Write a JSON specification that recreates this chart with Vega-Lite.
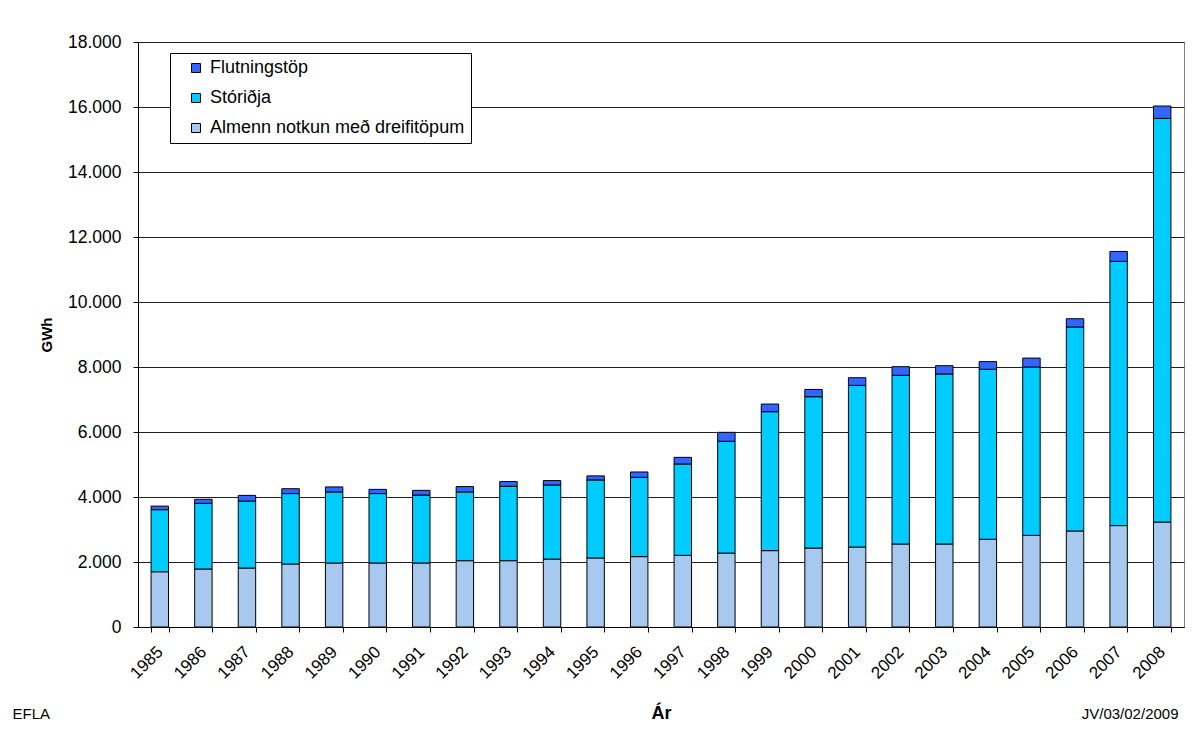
{
  "$schema": "https://vega.github.io/schema/vega-lite/v6.json",
  "width": 1046,
  "height": 585,
  "autosize": {"type": "none"},
  "padding": {"left": 138, "top": 42, "right": 16, "bottom": 115},
  "background": "white",
  "config": {
    "font": "Liberation Sans",
    "view": {"stroke": "#808080", "strokeWidth": 1}
  },
  "data": {
    "values": [
      {"year": "1985", "flokkur": "Almenn notkun með dreifitöpum", "gwh": 1700},
      {"year": "1985", "flokkur": "Stóriðja", "gwh": 1910},
      {"year": "1985", "flokkur": "Flutningstöp", "gwh": 110},
      {"year": "1986", "flokkur": "Almenn notkun með dreifitöpum", "gwh": 1785},
      {"year": "1986", "flokkur": "Stóriðja", "gwh": 2020},
      {"year": "1986", "flokkur": "Flutningstöp", "gwh": 125},
      {"year": "1987", "flokkur": "Almenn notkun með dreifitöpum", "gwh": 1815},
      {"year": "1987", "flokkur": "Stóriðja", "gwh": 2060},
      {"year": "1987", "flokkur": "Flutningstöp", "gwh": 175},
      {"year": "1988", "flokkur": "Almenn notkun með dreifitöpum", "gwh": 1940},
      {"year": "1988", "flokkur": "Stóriðja", "gwh": 2165},
      {"year": "1988", "flokkur": "Flutningstöp", "gwh": 150},
      {"year": "1989", "flokkur": "Almenn notkun með dreifitöpum", "gwh": 1970},
      {"year": "1989", "flokkur": "Stóriðja", "gwh": 2185},
      {"year": "1989", "flokkur": "Flutningstöp", "gwh": 155},
      {"year": "1990", "flokkur": "Almenn notkun með dreifitöpum", "gwh": 1970},
      {"year": "1990", "flokkur": "Stóriðja", "gwh": 2135},
      {"year": "1990", "flokkur": "Flutningstöp", "gwh": 130},
      {"year": "1991", "flokkur": "Almenn notkun með dreifitöpum", "gwh": 1970},
      {"year": "1991", "flokkur": "Stóriðja", "gwh": 2090},
      {"year": "1991", "flokkur": "Flutningstöp", "gwh": 145},
      {"year": "1992", "flokkur": "Almenn notkun með dreifitöpum", "gwh": 2040},
      {"year": "1992", "flokkur": "Stóriðja", "gwh": 2115},
      {"year": "1992", "flokkur": "Flutningstöp", "gwh": 165},
      {"year": "1993", "flokkur": "Almenn notkun með dreifitöpum", "gwh": 2040},
      {"year": "1993", "flokkur": "Stóriðja", "gwh": 2290},
      {"year": "1993", "flokkur": "Flutningstöp", "gwh": 145},
      {"year": "1994", "flokkur": "Almenn notkun með dreifitöpum", "gwh": 2090},
      {"year": "1994", "flokkur": "Stóriðja", "gwh": 2280},
      {"year": "1994", "flokkur": "Flutningstöp", "gwh": 135},
      {"year": "1995", "flokkur": "Almenn notkun með dreifitöpum", "gwh": 2125},
      {"year": "1995", "flokkur": "Stóriðja", "gwh": 2400},
      {"year": "1995", "flokkur": "Flutningstöp", "gwh": 125},
      {"year": "1996", "flokkur": "Almenn notkun með dreifitöpum", "gwh": 2165},
      {"year": "1996", "flokkur": "Stóriðja", "gwh": 2440},
      {"year": "1996", "flokkur": "Flutningstöp", "gwh": 165},
      {"year": "1997", "flokkur": "Almenn notkun með dreifitöpum", "gwh": 2205},
      {"year": "1997", "flokkur": "Stóriðja", "gwh": 2810},
      {"year": "1997", "flokkur": "Flutningstöp", "gwh": 205},
      {"year": "1998", "flokkur": "Almenn notkun með dreifitöpum", "gwh": 2275},
      {"year": "1998", "flokkur": "Stóriðja", "gwh": 3440},
      {"year": "1998", "flokkur": "Flutningstöp", "gwh": 275},
      {"year": "1999", "flokkur": "Almenn notkun með dreifitöpum", "gwh": 2350},
      {"year": "1999", "flokkur": "Stóriðja", "gwh": 4275},
      {"year": "1999", "flokkur": "Flutningstöp", "gwh": 235},
      {"year": "2000", "flokkur": "Almenn notkun með dreifitöpum", "gwh": 2430},
      {"year": "2000", "flokkur": "Stóriðja", "gwh": 4655},
      {"year": "2000", "flokkur": "Flutningstöp", "gwh": 225},
      {"year": "2001", "flokkur": "Almenn notkun með dreifitöpum", "gwh": 2460},
      {"year": "2001", "flokkur": "Stóriðja", "gwh": 4975},
      {"year": "2001", "flokkur": "Flutningstöp", "gwh": 235},
      {"year": "2002", "flokkur": "Almenn notkun með dreifitöpum", "gwh": 2555},
      {"year": "2002", "flokkur": "Stóriðja", "gwh": 5190},
      {"year": "2002", "flokkur": "Flutningstöp", "gwh": 265},
      {"year": "2003", "flokkur": "Almenn notkun með dreifitöpum", "gwh": 2555},
      {"year": "2003", "flokkur": "Stóriðja", "gwh": 5230},
      {"year": "2003", "flokkur": "Flutningstöp", "gwh": 255},
      {"year": "2004", "flokkur": "Almenn notkun með dreifitöpum", "gwh": 2700},
      {"year": "2004", "flokkur": "Stóriðja", "gwh": 5230},
      {"year": "2004", "flokkur": "Flutningstöp", "gwh": 235},
      {"year": "2005", "flokkur": "Almenn notkun með dreifitöpum", "gwh": 2820},
      {"year": "2005", "flokkur": "Stóriðja", "gwh": 5180},
      {"year": "2005", "flokkur": "Flutningstöp", "gwh": 275},
      {"year": "2006", "flokkur": "Almenn notkun með dreifitöpum", "gwh": 2955},
      {"year": "2006", "flokkur": "Stóriðja", "gwh": 6275},
      {"year": "2006", "flokkur": "Flutningstöp", "gwh": 255},
      {"year": "2007", "flokkur": "Almenn notkun með dreifitöpum", "gwh": 3120},
      {"year": "2007", "flokkur": "Stóriðja", "gwh": 8130},
      {"year": "2007", "flokkur": "Flutningstöp", "gwh": 305},
      {"year": "2008", "flokkur": "Almenn notkun með dreifitöpum", "gwh": 3230},
      {"year": "2008", "flokkur": "Stóriðja", "gwh": 12420},
      {"year": "2008", "flokkur": "Flutningstöp", "gwh": 380}
    ]
  },
  "transform": [
    {"calculate": "indexof(['Almenn notkun með dreifitöpum', 'Stóriðja', 'Flutningstöp'], datum.flokkur)", "as": "rod"}
  ],
  "resolve": {"axis": {"x": "independent"}},
  "layer": [
    {
      "mark": {"type": "bar", "stroke": "black", "strokeWidth": 1},
      "encoding": {
        "x": {
          "field": "year",
          "type": "ordinal",
          "scale": {"paddingInner": 0.6, "paddingOuter": 0.3},
          "axis": {
            "orient": "bottom",
            "labelAngle": -45,
            "labelAlign": "right",
            "labelBaseline": "middle",
            "labelFontSize": 17,
            "labelColor": "black",
            "labelPadding": 17,
            "tickBand": "extent",
            "tickSize": 5,
            "tickColor": "black",
            "domainColor": "black",
            "title": "Ár",
            "titleFontSize": 18,
            "titleFontWeight": "bold",
            "titleColor": "black",
            "titleBaseline": "middle",
            "titleY": 86
          }
        },
        "y": {
          "field": "gwh",
          "type": "quantitative",
          "stack": "zero",
          "scale": {"domain": [0, 18000]},
          "axis": {
            "values": [0, 2000, 4000, 6000, 8000, 10000, 12000, 14000, 16000, 18000],
            "labelExpr": "replace(format(datum.value, ','), ',', '.')",
            "labelFontSize": 17.5,
            "labelColor": "black",
            "labelPadding": 12,
            "tickSize": 5,
            "tickColor": "black",
            "domainColor": "black",
            "grid": true,
            "gridColor": "#202020",
            "gridWidth": 1,
            "title": "GWh",
            "titleFontSize": 15,
            "titleFontWeight": "bold",
            "titleColor": "black",
            "titlePadding": 13
          }
        },
        "color": {
          "field": "flokkur",
          "type": "nominal",
          "scale": {
            "domain": ["Flutningstöp", "Stóriðja", "Almenn notkun með dreifitöpum"],
            "range": ["#3366FF", "#00CCFF", "#A8C9EF"]
          },
          "legend": {
            "title": null,
            "orient": "none",
            "legendX": 32,
            "legendY": 11,
            "fillColor": "white",
            "strokeColor": "black",
            "padding": 6,
            "symbolOffset": 11,
            "symbolType": "square",
            "symbolSize": 81,
            "symbolStrokeColor": "black",
            "symbolStrokeWidth": 1,
            "labelFontSize": 18,
            "labelColor": "black",
            "labelOffset": 5,
            "rowPadding": 12,
            "labelLimit": 400
          }
        },
        "order": {"field": "rod", "type": "quantitative", "sort": "ascending"}
      }
    },
    {
      "mark": {"type": "text", "text": "", "opacity": 0},
      "encoding": {
        "x": {
          "field": "year",
          "type": "ordinal",
          "axis": {
            "orient": "bottom",
            "labels": false,
            "ticks": false,
            "domain": false,
            "title": "EFLA",
            "titleFontSize": 15,
            "titleFontWeight": "normal",
            "titleColor": "black",
            "titleAlign": "left",
            "titleBaseline": "middle",
            "titleX": -126,
            "titleY": 86
          }
        }
      }
    },
    {
      "mark": {"type": "text", "text": "", "opacity": 0},
      "encoding": {
        "x": {
          "field": "year",
          "type": "ordinal",
          "axis": {
            "orient": "bottom",
            "labels": false,
            "ticks": false,
            "domain": false,
            "title": "JV/03/02/2009",
            "titleFontSize": 15,
            "titleFontWeight": "normal",
            "titleColor": "black",
            "titleAlign": "right",
            "titleBaseline": "middle",
            "titleX": 1040,
            "titleY": 86
          }
        }
      }
    }
  ]
}
